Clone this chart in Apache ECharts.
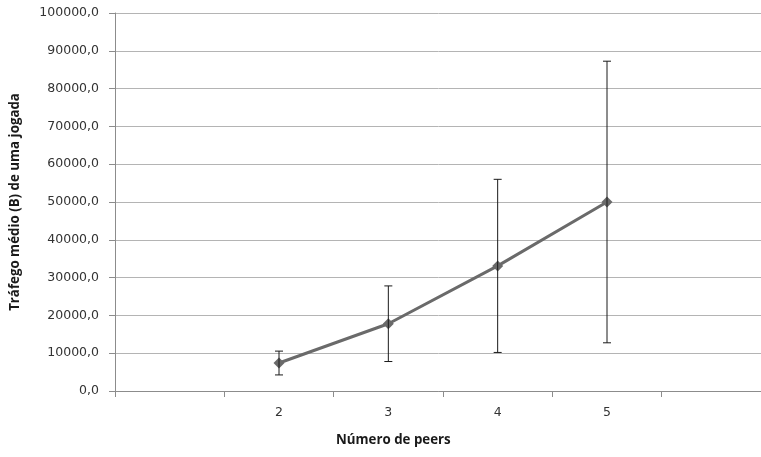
<!DOCTYPE html>
<html>
<head>
<meta charset="utf-8">
<style>
  html, body { margin: 0; padding: 0; background: #fff; }
  #chart { width: 761px; height: 457px; }
</style>
<script src="https://cdn.jsdelivr.net/npm/echarts@6/dist/echarts.min.js"></script>
</head>
<body>
<div id="chart"></div>
<script>
// Category slots along the x axis (first and last slots are left empty)
const peerCategories = ['', '2', '3', '4', '5', ' '];
// Mean traffic per game (bytes)
const meanTraffic = [null, 7400, 17800, 33100, 50000, null];
// Standard deviation shown as error bars
const trafficError = [null, 3150, 10000, 22900, 37250, null];
// Y axis ticks
const yMin = 0, yMax = 100000, yStep = 10000;

const errorData = [];
peerCategories.forEach((c, i) => {
  if (meanTraffic[i] != null) {
    errorData.push([i, meanTraffic[i] - trafficError[i], meanTraffic[i] + trafficError[i]]);
  }
});

const font = 'DejaVu Sans';
const titleFont = 'Open Sans';
const chart = echarts.init(document.getElementById('chart'), null, { renderer: 'canvas' });

chart.setOption({
  animation: false,
  backgroundColor: '#ffffff',
  // plot area runs past the right edge of the canvas
  grid: { left: 115, top: 13, width: 656, height: 378, containLabel: false, outerBoundsMode: 'none' },
  xAxis: {
    type: 'category',
    data: peerCategories,
    boundaryGap: true,
    axisLine: { lineStyle: { color: '#8c8c8c', width: 1 } },
    axisTick: { show: true, alignWithLabel: false, length: 6, lineStyle: { color: '#8c8c8c' } },
    axisLabel: { color: '#333', fontFamily: font, fontSize: 12.5, margin: 15 },
    splitLine: { show: false }
  },
  yAxis: {
    type: 'value',
    min: yMin, max: yMax, interval: yStep,
    name: 'Tráfego médio (B) de uma jogada',
    nameLocation: 'middle',
    nameGap: 93,
    nameTextStyle: { color: '#1a1a1a', fontFamily: titleFont, fontWeight: 'bold', fontSize: 13.3 },
    axisLine: { show: true, lineStyle: { color: '#8c8c8c', width: 1 } },
    axisTick: { show: true, length: 6, lineStyle: { color: '#8c8c8c' } },
    axisLabel: {
      color: '#333', fontFamily: font, fontSize: 12.5, margin: 16,
      formatter: v => v.toFixed(1).replace('.', ',')
    },
    splitLine: { show: true, lineStyle: { color: '#b4b4b4', width: 1 } }
  },
  graphic: [{
    type: 'text',
    left: 336, top: 434,
    style: { text: 'Número de peers', fill: '#1a1a1a', font: 'bold 13.3px "Open Sans"' }
  }],
  series: [
    {
      type: 'line',
      data: meanTraffic,
      symbol: 'diamond',
      symbolSize: 11,
      lineStyle: { color: '#6a6a6a', width: 3 },
      itemStyle: { color: '#6a6a6a' },
      z: 2
    },
    {
      type: 'custom',
      data: errorData,
      z: 3,
      renderItem: (params, api) => {
        const x = api.value(0);
        const lo = api.coord([x, api.value(1)]);
        const hi = api.coord([x, api.value(2)]);
        const cap = 4;
        const style = { stroke: '#1a1a1a', lineWidth: 1, fill: null };
        return {
          type: 'group',
          children: [
            { type: 'line', shape: { x1: hi[0], y1: hi[1], x2: lo[0], y2: lo[1] }, style },
            { type: 'line', shape: { x1: hi[0] - cap, y1: hi[1], x2: hi[0] + cap, y2: hi[1] }, style },
            { type: 'line', shape: { x1: lo[0] - cap, y1: lo[1], x2: lo[0] + cap, y2: lo[1] }, style }
          ]
        };
      }
    }
  ]
});
</script>
</body>
</html>
